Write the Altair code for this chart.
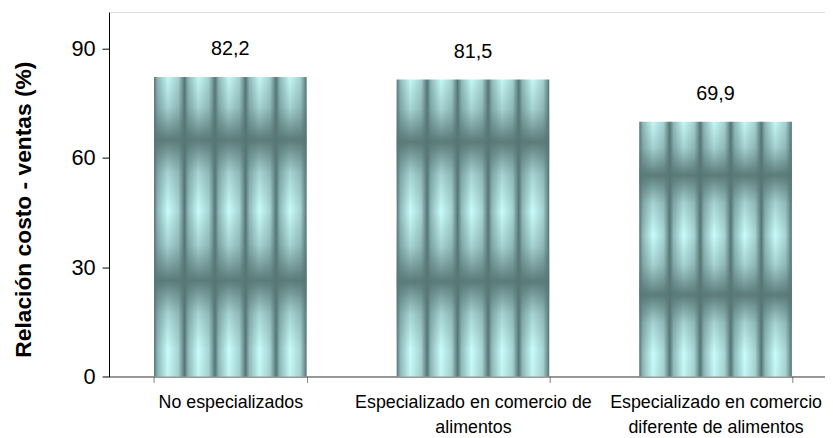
import altair as alt
import pandas as pd

categories = [
    "No especializados",
    "Especializado en comercio de alimentos",
    "Especializado en comercio diferente de alimentos",
]
values = [82.2, 81.5, 69.9]
label_lines = [
    ["No especializados"],
    ["Especializado en comercio de", "alimentos"],
    ["Especializado en comercio", "diferente de alimentos"],
]
y_ticks = [0, 30, 60, 90]

df = pd.DataFrame({"cat": categories, "val": values})

# multi-line x labels
expr = "''"
for c, lines in reversed(list(zip(categories, label_lines))):
    arr = "[" + ",".join("'" + l + "'" for l in lines) + "]"
    expr = f"datum.value == '{c}' ? {arr} : ({expr})"

FONT = "Liberation Sans Narrow, Arial Narrow, Liberation Sans, Arial"

dark = "#567575"
h_stops = []
for i in range(5):
    b = i / 5
    w = 1 / 5
    h_stops += [
        alt.GradientStop(color=dark, offset=b),
        alt.GradientStop(color="#8fbaba", offset=b + 0.12 * w),
        alt.GradientStop(color="#c8fcfa", offset=b + 0.45 * w),
        alt.GradientStop(color="#a6d4d3", offset=b + 0.8 * w),
    ]
h_stops.append(alt.GradientStop(color=dark, offset=1.0))

band = [(0.0, 0.03), (0.1, 0.3), (0.21, 0.95), (0.32, 0.3), (0.445, 0.0),
        (0.56, 0.3), (0.68, 0.95), (0.79, 0.3), (0.91, 0.0), (1.0, 0.05)]
v_stops = [alt.GradientStop(color=f"rgba(87,117,117,{a})", offset=o) for o, a in band]

x_enc = alt.X(
    "cat:N",
    sort=categories,
    title="",
    scale=alt.Scale(range=[0, 735], paddingInner=0.371, paddingOuter=0.1855),
    axis=alt.Axis(
        labelExpr=expr,
        labelAngle=0,
        labelFont=FONT,
        labelFontSize=18,
        labelColor="black",
        labelLineHeight=26,
        labelPadding=11,
        tickBand="extent",
        tickSize=6,
        tickColor="#808080",
        domainColor="#404040",
        labelLimit=400,
    ),
)
y_enc = alt.Y(
    "val:Q",
    scale=alt.Scale(domain=[0, 100], nice=False),
    axis=alt.Axis(
        values=y_ticks,
        title="Relación costo - ventas (%)",
        titleFont="Liberation Sans",
        titleFontSize=23,
        titleFontWeight="bold",
        titleColor="black",
        titleX=-86,
        titleY=199,
        titleBaseline="middle",
        labelFont=FONT,
        labelFontSize=22,
        labelColor="black",
        labelPadding=7,
        tickSize=7,
        tickColor="black",
        domainColor="black",
        grid=False,
    ),
)

base = alt.Chart(df).encode(x=x_enc, y=y_enc)

bars = base.mark_bar(
    color=alt.Gradient(gradient="linear", stops=h_stops, x1=0, x2=1, y1=0, y2=0)
)
overlay = base.mark_bar(
    color=alt.Gradient(gradient="linear", stops=v_stops, x1=0, x2=0, y1=0, y2=1)
)
text = base.transform_calculate(
    lbl="replace(format(datum.val, '.1f'), '.', ',')"
).mark_text(baseline="bottom", dy=-18, font=FONT, fontSize=20, color="black").encode(
    text="lbl:N"
)

chart = (
    alt.layer(bars, overlay, text)
    .properties(
        width=723,
        height=368,
        autosize=alt.AutoSizeParams(type="none"),
        padding={"left": 102, "top": 2, "right": 0, "bottom": 60},
    )
    .configure_view(stroke=None)
    .configure(background="white")
)

chart.save("out.html", embed_options={"renderer": "svg", "actions": False})
